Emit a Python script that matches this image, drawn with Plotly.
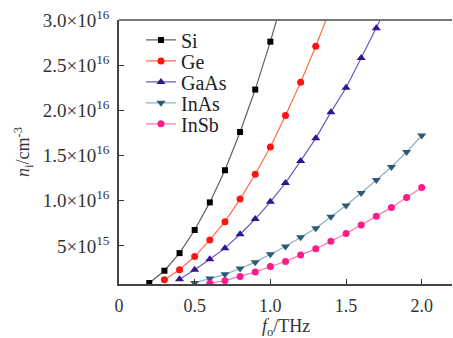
import plotly.graph_objects as go

# frequency (THz) and intrinsic carrier density (units of 1e15 cm^-3)
si_f = [0.2, 0.3, 0.4, 0.5, 0.6, 0.7, 0.8, 0.9, 1.0, 1.1]
si_n = [0.89, 2.25, 4.2, 6.76, 9.81, 13.37, 17.6, 22.3, 27.6, 33.4]

ge_f = [0.3, 0.4, 0.5, 0.6, 0.7, 0.8, 0.9, 1.0, 1.1, 1.2, 1.3, 1.4]
ge_n = [1.26, 2.36, 3.82, 5.66, 7.68, 10.18, 12.93, 15.94, 19.43, 23.1, 27.1, 31.4]

gaas_f = [0.4, 0.5, 0.6, 0.7, 0.8, 0.9, 1.0, 1.1, 1.2, 1.3, 1.4, 1.5, 1.6, 1.7, 1.8]
gaas_n = [1.3, 2.36, 3.53, 4.75, 6.29, 7.97, 9.88, 11.97, 14.4, 16.9, 19.8, 22.5, 25.8, 29.1, 32.5]

inas_f = [0.5, 0.6, 0.7, 0.8, 0.9, 1.0, 1.1, 1.2, 1.3, 1.4, 1.5, 1.6, 1.7, 1.8, 1.9, 2.0]
inas_n = [0.9, 1.4, 1.85, 2.5, 3.2, 4.08, 4.92, 5.96, 6.95, 8.23, 9.47, 10.85, 12.3, 13.73, 15.39, 17.22]

insb_f = [0.6, 0.7, 0.8, 0.9, 1.0, 1.1, 1.2, 1.3, 1.4, 1.5, 1.6, 1.7, 1.8, 1.9, 2.0]
insb_n = [0.85, 1.15, 1.62, 2.1, 2.72, 3.27, 4.0, 4.67, 5.52, 6.36, 7.31, 8.27, 9.26, 10.36, 11.46]

names = ["Si", "Ge", "GaAs", "InAs", "InSb"]
xs = [si_f, ge_f, gaas_f, inas_f, insb_f]
ys = [si_n, ge_n, gaas_n, inas_n, insb_n]

y_tickvals = [5e15, 1.0e16, 1.5e16, 2.0e16, 2.5e16, 3.0e16]
y_ticktext = ["5×10<sup>15</sup>", "1.0×10<sup>16</sup>", "1.5×10<sup>16</sup>",
              "2.0×10<sup>16</sup>", "2.5×10<sup>16</sup>", "3.0×10<sup>16</sup>"]
x_tickvals = [0, 0.5, 1.0, 1.5, 2.0]
x_ticktext = ["0", "0.5", "1.0", "1.5", "2.0"]
x_title = "<i>f</i><sub>o</sub>/THz"
y_title = "<i>n</i><sub>i</sub>/cm<sup>-3</sup>"

marker_colors = ["#000000", "#ff1414", "#33148c", "#2b5c74", "#ff1a8c"]
line_colors = ["#606060", "#ff6a48", "#6a5ac0", "#8fb0c6", "#ff78ae"]
symbols = ["square", "circle", "triangle-up", "triangle-down", "circle"]
sizes = [6, 7, 8, 8, 7]

FONT = "Liberation Serif, Times New Roman, serif"
W, H = 453, 338
ML, MR, MT, MB = 119, 1, 20, 53.5
ph = H - MT - MB

fig = go.Figure()
legend_px = [40, 61, 82, 103, 124]
for i in range(5):
    lg = "legend" if i == 0 else f"legend{i+1}"
    fig.add_trace(go.Scatter(
        x=xs[i], y=[v * 1e15 for v in ys[i]], name=names[i], mode="lines+markers",
        line=dict(color=line_colors[i], width=1.2),
        marker=dict(color=marker_colors[i], symbol=symbols[i], size=sizes[i]),
        legend=lg,
    ))

layout_legends = {}
for i in range(5):
    key = "legend" if i == 0 else f"legend{i+1}"
    layout_legends[key] = dict(
        x=0.066, xanchor="left", y=(H - MB - legend_px[i]) / ph, yanchor="middle",
        font=dict(family=FONT, size=20, color="#222"), bgcolor="rgba(0,0,0,0)",
        borderwidth=0, itemwidth=30,
    )

fig.update_layout(
    width=W, height=H,
    margin=dict(l=ML, r=MR, t=MT, b=MB, pad=0, autoexpand=False),
    paper_bgcolor="white", plot_bgcolor="white",
    font=dict(family=FONT, size=18, color="#333"),
    showlegend=True,
    **layout_legends,
)
fig.update_xaxes(
    range=[0, 2.2], tickvals=x_tickvals, ticktext=x_ticktext, automargin=False,
    ticks="inside", ticklen=5, tickcolor="#333", tickwidth=1.2,
    showline=True, linecolor="#444", linewidth=1.5, mirror=False,
    showgrid=False, zeroline=False,
    tickfont=dict(family=FONT, size=18, color="#333"),
    ticklabelstandoff=5,
)
fig.update_yaxes(
    range=[0.78e15, 3.0e16], tickvals=y_tickvals, ticktext=y_ticktext, automargin=False,
    ticks="inside", ticklen=5, tickcolor="#333", tickwidth=1.2,
    showline=True, linecolor="#444", linewidth=1.5,
    showgrid=False, zeroline=False,
    tickfont=dict(family=FONT, size=19, color="#333"),
    ticklabelstandoff=4,
    title=dict(text=y_title, font=dict(family=FONT, size=18, color="#333"), standoff=8),
)
fig.add_annotation(text=x_title, xref="paper", yref="paper", x=0.5, y=0,
                   xanchor="center", yanchor="middle", yshift=-43, showarrow=False,
                   font=dict(family=FONT, size=18, color="#333"))
# top border line
fig.add_shape(type="line", xref="paper", yref="paper", x0=0, x1=1, y0=1, y1=1,
              line=dict(color="#777", width=2))
fig.write_html("out.html")
